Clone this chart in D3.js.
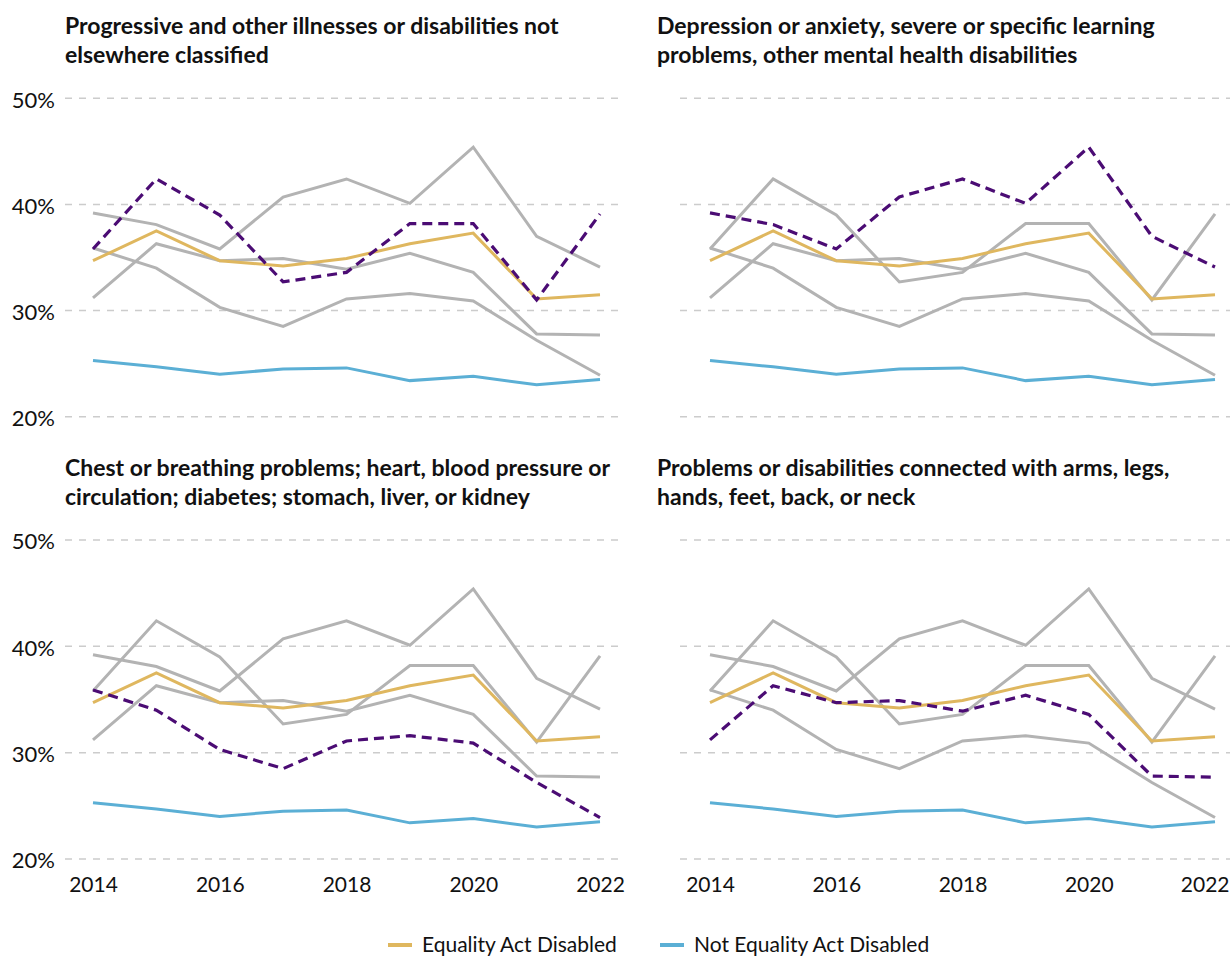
<!DOCTYPE html>
<html><head><meta charset="utf-8">
<script src="https://cdn.jsdelivr.net/npm/d3@7"></script>
<style>
html,body{margin:0;padding:0;background:#fff;}
svg text{font-family:"Lato","Open Sans",sans-serif;fill:#111;}
</style></head>
<body><svg id="chart" width="1230" height="958"></svg>
<script>
const years = [2014, 2015, 2016, 2017, 2018, 2019, 2020, 2021, 2022];
const eaDisabled = [34.7, 37.5, 34.7, 34.2, 34.9, 36.3, 37.3, 31.1, 31.5];
const notEaDisabled = [25.3, 24.7, 24.0, 24.5, 24.6, 23.4, 23.8, 23.0, 23.5];
const progressive = [35.8, 42.4, 39.0, 32.7, 33.6, 38.2, 38.2, 31.0, 39.1];
const depression = [39.2, 38.1, 35.8, 40.7, 42.4, 40.1, 45.4, 37.0, 34.1];
const chest = [35.9, 34.0, 30.3, 28.5, 31.1, 31.6, 30.9, 27.2, 23.9];
const arms = [31.2, 36.3, 34.7, 34.9, 33.9, 35.4, 33.6, 27.8, 27.7];
const panelTitles = [
  ["Progressive and other illnesses or disabilities not", "elsewhere classified"],
  ["Depression or anxiety, severe or specific learning", "problems, other mental health disabilities"],
  ["Chest or breathing problems; heart, blood pressure or", "circulation; diabetes; stomach, liver, or kidney"],
  ["Problems or disabilities connected with arms, legs,", "hands, feet, back, or neck"]
];
const categorySeries = [progressive, depression, chest, arms];
const yTicks = [20, 30, 40, 50];
const xTicks = [2014, 2016, 2018, 2020, 2022];
const legendLabels = ["Equality Act Disabled", "Not Equality Act Disabled"];

const colors = {ea: "#DFB75F", notEa: "#5BAFD5", focus: "#4B0C74", grey: "#b3b3b3", grid: "#cccccc"};

const svg = d3.select("#chart");

const panels = [
  {x0: 93, x1: 600, gx0: 65, gx1: 620, y50: 98.3, y20: 416.7, tx: 65, ty: 34, yLabels: true, xLabels: false},
  {x0: 710, x1: 1215, gx0: 680, gx1: 1230, y50: 98.3, y20: 416.7, tx: 657, ty: 34, yLabels: false, xLabels: false},
  {x0: 93, x1: 600, gx0: 65, gx1: 620, y50: 540, y20: 859, tx: 65, ty: 476, yLabels: true, xLabels: true},
  {x0: 710, x1: 1215, gx0: 680, gx1: 1230, y50: 540, y20: 859, tx: 657, ty: 476, yLabels: false, xLabels: true}
];

panels.forEach((p, i) => {
  const g = svg.append("g");
  const x = d3.scaleLinear().domain([2014, 2022]).range([p.x0, p.x1]);
  const y = d3.scaleLinear().domain([20, 50]).range([p.y20, p.y50]);

  const t = g.append("text").attr("x", p.tx).attr("y", p.ty)
    .style("font-size", "23px").style("font-weight", "700");
  panelTitles[i].forEach((line, k) => {
    t.append("tspan").attr("x", p.tx).attr("dy", k === 0 ? 0 : 29).text(line);
  });

  g.selectAll("line.grid").data(yTicks).enter().append("line")
    .attr("x1", p.gx0).attr("x2", p.gx1)
    .attr("y1", d => y(d)).attr("y2", d => y(d))
    .attr("stroke", colors.grid).attr("stroke-width", 1.5)
    .attr("stroke-dasharray", "7,7");

  if (p.yLabels) {
    const ya = d3.axisLeft(y).tickValues(yTicks).tickFormat(d => d + "%").tickSize(0).tickPadding(0);
    const ag = g.append("g").attr("transform", `translate(55,0)`).call(ya);
    ag.select(".domain").remove();
    ag.selectAll("text").style("font-size", "22px").style("font-weight", "400").attr("fill", "#1a1a1a").attr("dy", "0.4em");
  }
  if (p.xLabels) {
    const xa = d3.axisBottom(x).tickValues(xTicks).tickFormat(d3.format("d")).tickSize(0).tickPadding(0);
    const ag = g.append("g").attr("transform", `translate(0,${p.y20 + 18})`).call(xa);
    ag.select(".domain").remove();
    ag.selectAll("text").style("font-size", "21px").style("font-weight", "400").attr("fill", "#1a1a1a");
    if (i === 3) {
      ag.selectAll("text").filter(d => d === 2022).attr("text-anchor", "end").attr("x", 1229 - x(2022));
    }
  }

  const line = d3.line().x((d, j) => x(years[j])).y(d => y(d));

  categorySeries.forEach((s, k) => {
    if (k === i) return;
    g.append("path").attr("d", line(s)).attr("fill", "none")
      .attr("stroke", colors.grey).attr("stroke-width", 3);
  });
  g.append("path").attr("d", line(notEaDisabled)).attr("fill", "none")
    .attr("stroke", colors.notEa).attr("stroke-width", 3);
  g.append("path").attr("d", line(eaDisabled)).attr("fill", "none")
    .attr("stroke", colors.ea).attr("stroke-width", 3);
  g.append("path").attr("d", line(categorySeries[i])).attr("fill", "none")
    .attr("stroke", colors.focus).attr("stroke-width", 3.2)
    .attr("stroke-dasharray", "10,6");
});

const legend = svg.append("g");
const legendItems = [
  {label: legendLabels[0], color: colors.ea, x: 388},
  {label: legendLabels[1], color: colors.notEa, x: 660}
];
legendItems.forEach(it => {
  legend.append("line").attr("x1", it.x).attr("x2", it.x + 24)
    .attr("y1", 945).attr("y2", 945).attr("stroke", it.color).attr("stroke-width", 4);
  legend.append("text").attr("x", it.x + 34).attr("y", 952)
    .style("font-size", "21px").style("font-weight", "400").text(it.label);
});
</script></body></html>
